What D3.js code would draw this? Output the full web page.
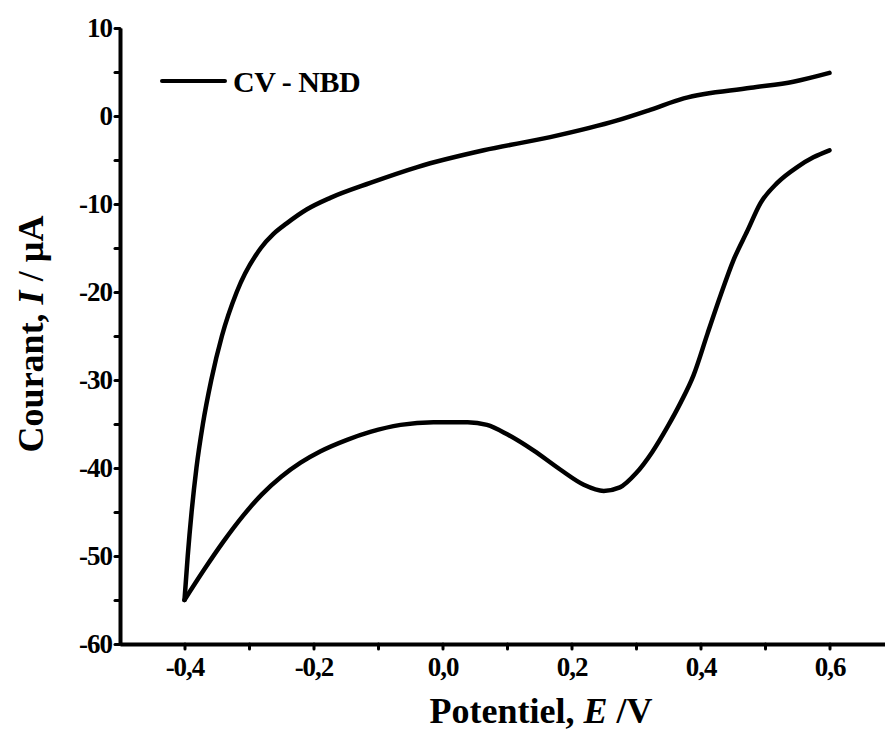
<!DOCTYPE html>
<html>
<head>
<meta charset="utf-8">
<script src="https://cdn.jsdelivr.net/npm/d3@7"></script>
<style>
  html, body { margin: 0; padding: 0; background: #fff; }
  svg { display: block; }
  text { font-family: "Liberation Serif", "Times New Roman", serif; font-weight: bold; fill: #000; }
</style>
</head>
<body>
<svg id="chart" width="885" height="733"></svg>
<script>
// ---- data ----
// upper branch, scanned from +0.6 V down to -0.4 V
const upperE = [0.600, 0.544, 0.478, 0.374, 0.322, 0.271, 0.167, 0.064, -0.039, -0.112, -0.174, -0.210, -0.2416, -0.262, -0.2816, -0.319, -0.342, -0.3585, -0.3715, -0.3815, -0.389, -0.395, -0.400];
const upperI = [4.9, 3.9, 3.2, 2.0, 0.7, -0.5, -2.4, -3.9, -5.8, -7.6, -9.3, -10.6, -12.2, -13.4, -15.0, -20.0, -25.0, -30.0, -35.0, -40.0, -45.0, -50.0, -55.0];
// lower branch, scanned from -0.4 V back up to +0.6 V
const lowerE = [-0.400, -0.370, -0.340, -0.310, -0.280, -0.250, -0.220, -0.189, -0.148, -0.112, -0.065, -0.014, 0.039, 0.069, 0.101, 0.141, 0.183, 0.219, 0.250, 0.275, 0.300, 0.325, 0.349, 0.369, 0.389, 0.411, 0.431, 0.451, 0.473, 0.493, 0.519, 0.550, 0.575, 0.600];
const lowerI = [-55.0, -51.6, -48.4, -45.5, -43.0, -41.0, -39.4, -38.1, -36.8, -35.9, -35.1, -34.8, -34.8, -35.1, -36.2, -38.0, -40.2, -41.9, -42.6, -42.2, -40.6, -38.2, -35.3, -32.6, -29.5, -24.7, -20.4, -16.4, -13.0, -9.9, -7.6, -5.8, -4.7, -3.9];

const xTicks = [-0.4, -0.2, 0.0, 0.2, 0.4, 0.6];
const xTickLabels = ["-0,4", "-0,2", "0,0", "0,2", "0,4", "0,6"];
const xMinorTicks = [-0.3, -0.1, 0.1, 0.3, 0.5];
const yTicks = [-60, -50, -40, -30, -20, -10, 0, 10];
const yTickLabels = ["-60", "-50", "-40", "-30", "-20", "-10", "0", "10"];
const yMinorTicks = [-55, -45, -35, -25, -15, -5, 5];
const seriesName = "CV - NBD";

// ---- drawing ----
const svg = d3.select("#chart");
const x = d3.scaleLinear().domain([-0.5, 0.7]).range([120, 894]);
const y = d3.scaleLinear().domain([-60, 10]).range([644, 28]);

const upperPts = upperE.map((e, i) => [e, upperI[i]]).sort((a, b) => a[0] - b[0]);
const lowerPts = lowerE.map((e, i) => [e, lowerI[i]]).sort((a, b) => a[0] - b[0]);

const line = d3.line()
  .x(d => x(d[0])).y(d => y(d[1]))
  .curve(d3.curveMonotoneX);

[upperPts, lowerPts].forEach(p => {
  svg.append("path")
    .attr("d", line(p))
    .attr("fill", "none")
    .attr("stroke", "#000")
    .attr("stroke-width", 4.5)
    .attr("stroke-linejoin", "round")
    .attr("stroke-linecap", "round");
});

// axes
const xAxis = d3.axisBottom(x)
  .tickValues(xTicks)
  .tickFormat((d, i) => xTickLabels[i])
  .tickSize(5).tickSizeOuter(0).tickPadding(8);
svg.append("g").attr("transform", "translate(0,644)").call(xAxis);

const xMinor = d3.axisBottom(x).tickValues(xMinorTicks).tickFormat("").tickSize(5).tickSizeOuter(0);
const gxm = svg.append("g").attr("transform", "translate(0,644)").call(xMinor);
gxm.select(".domain").remove();

const yAxis = d3.axisLeft(y)
  .tickValues(yTicks)
  .tickFormat((d, i) => yTickLabels[i])
  .tickSize(5).tickSizeOuter(0).tickPadding(3);
svg.append("g").attr("transform", "translate(120,0)").call(yAxis);

const yMinor = d3.axisLeft(y).tickValues(yMinorTicks).tickFormat("").tickSize(5).tickSizeOuter(0);
const gym = svg.append("g").attr("transform", "translate(120,0)").call(yMinor);
gym.select(".domain").remove();

svg.selectAll(".domain").attr("stroke", "#000").attr("stroke-width", 4);
svg.selectAll(".tick line").attr("stroke", "#000").attr("stroke-width", 3).attr("stroke-linecap", "round");
svg.selectAll(".tick text")
  .attr("font-family", "Liberation Serif, Times New Roman, serif")
  .attr("font-weight", "bold")
  .attr("font-size", 27)
  .attr("letter-spacing", -1)
  .attr("fill", "#000");

// axis titles
const xt = svg.append("text")
  .attr("x", 541).attr("y", 723)
  .attr("text-anchor", "middle")
  .attr("font-size", 36);
xt.append("tspan").text("Potentiel, ");
xt.append("tspan").attr("font-style", "italic").text("E");
xt.append("tspan").text(" /V");

const yt = svg.append("text")
  .attr("transform", "translate(43,334) rotate(-90)")
  .attr("text-anchor", "middle")
  .attr("font-size", 36);
yt.append("tspan").text("Courant, ");
yt.append("tspan").attr("font-style", "italic").text("I");
yt.append("tspan").text(" / µA");

// legend
svg.append("line")
  .attr("x1", 162).attr("x2", 225).attr("y1", 81).attr("y2", 81)
  .attr("stroke", "#000").attr("stroke-width", 4).attr("stroke-linecap", "round");
svg.append("text")
  .attr("x", 233).attr("y", 92)
  .attr("font-size", 30)
  .attr("letter-spacing", -0.5)
  .text(seriesName);
</script>
</body>
</html>
